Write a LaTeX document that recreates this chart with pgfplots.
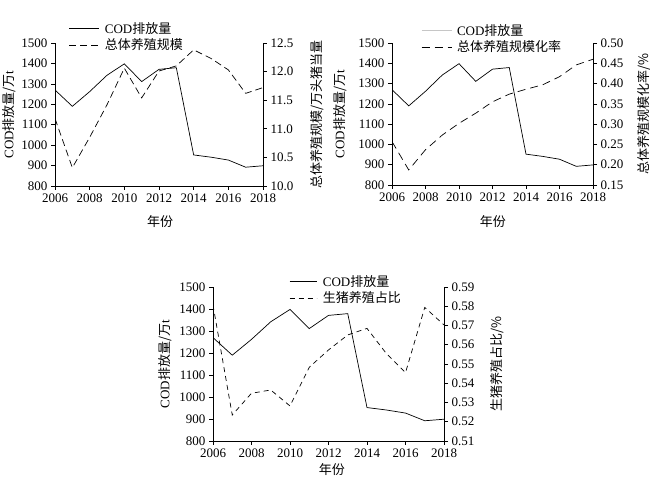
\documentclass[border=0pt]{standalone}
\usepackage{fontspec}
\setmainfont{Liberation Serif}
\newfontfamily\cjk{Noto Sans CJK SC}
\usepackage{pgfplots}
\pgfplotsset{compat=1.18}

% COD emission, shared by the three panels
\pgfplotstableread{
year cod
2006 1270
2007 1190
2008 1262
2009 1342
2010 1398
2011 1311
2012 1371
2013 1379
2014 952
2015 941
2016 927
2017 892
2018 899
}\coddata

\pgfplotstableread{
year v
2006 11.18
2007 10.32
2008 10.85
2009 11.42
2010 12.06
2011 11.54
2012 12.01
2013 12.10
2014 12.38
2015 12.23
2016 12.03
2017 11.62
2018 11.72
}\scaledata

\pgfplotstableread{
year v
2006 0.257
2007 0.187
2008 0.237
2009 0.273
2010 0.302
2011 0.327
2012 0.355
2013 0.374
2014 0.386
2015 0.397
2016 0.417
2017 0.446
2018 0.460
}\ratedata

\pgfplotstableread{
year v
2006 0.5806
2007 0.5235
2008 0.5348
2009 0.5365
2010 0.5282
2011 0.5483
2012 0.5573
2013 0.5651
2014 0.5685
2015 0.5555
2016 0.5455
2017 0.5794
2018 0.5703
}\pigdata

\pgfplotsset{
  panel/.style={
    scale only axis,
    xmin=2006, xmax=2018,
    xtick={2006,2008,...,2018},
    /pgf/number format/1000 sep={},
    /pgf/number format/assume math mode=true,
    tick align=outside,
    major tick length=4pt,
    axis line style={black, line width=0.6pt},
    tick style={black, line width=0.6pt},
  },
  leftax/.style={
    panel,
    axis y line*=left, axis x line*=bottom,
    ymin=800, ymax=1500,
    ytick={800,900,1000,1100,1200,1300,1400,1500},
    ylabel={COD{\cjk 排放量/万}t},
    xlabel={\cjk 年份},
  },
  rightax/.style={
    panel,
    axis y line*=right, axis x line=none,
    legend cell align=left,
    legend image code/.code={\draw[##1] (0pt,0pt) -- (30pt,0pt); \path (34pt,0pt);},
    legend style={draw=none, fill=none, inner sep=0pt, row sep=2pt,
      nodes={inner sep=1pt}},
  },
  codline/.style={black, no marks, line width=0.7pt},
}

\begin{document}
\begin{tikzpicture}[font=\fontsize{13}{15}\selectfont]
\path[use as bounding box] (0,0) rectangle (650pt,481pt);

% ---------- a ----------
\begin{axis}[leftax, at={(55pt,295pt)}, anchor=south west,
  width=208pt, height=143pt,
  ylabel style={at={(axis description cs:-0.221,0.5)}, anchor=center},
  xlabel style={at={(axis description cs:0.505,-0.252)}, anchor=center}]
\addplot[codline] table[x=year, y=cod] {\coddata};
\node at (axis description cs:0.553,1.248) {a. COD{\cjk 排放量与总体养殖规模变化趋势}};
\end{axis}
\begin{axis}[rightax, at={(55pt,295pt)}, anchor=south west,
  width=208pt, height=143pt,
  ymin=10, ymax=12.5, ytick={10,10.5,11,11.5,12,12.5},
  yticklabel style={/pgf/number format/.cd, fixed, fixed zerofill, precision=1},
  ylabel={\cjk 总体养殖规模/万头猪当量},
  ylabel style={at={(axis description cs:1.26,0.5)}, anchor=center},
  legend style={at={(axis description cs:0.067,1.154)}, anchor=north west}]
\addlegendimage{codline}
\addlegendentry{COD{\cjk 排放量}}
\addplot[black, no marks, line width=0.7pt, dash pattern=on 7pt off 4pt] table[x=year, y=v] {\scaledata};
\addlegendentry{\cjk 总体养殖规模}
\end{axis}

% ---------- b ----------
\begin{axis}[leftax, at={(392pt,296pt)}, anchor=south west,
  width=201pt, height=142pt,
  ylabel style={at={(axis description cs:-0.259,0.5)}, anchor=center},
  xlabel style={at={(axis description cs:0.502,-0.26)}, anchor=center}]
\addplot[codline] table[x=year, y=cod] {\coddata};
\node at (axis description cs:0.597,1.25) {b. COD{\cjk 排放量与总体养殖规模化率变化趋势}};
\end{axis}
\begin{axis}[rightax, at={(392pt,296pt)}, anchor=south west,
  width=201pt, height=142pt,
  ymin=0.15, ymax=0.50, ytick={0.15,0.20,0.25,0.30,0.35,0.40,0.45,0.50},
  yticklabel style={/pgf/number format/.cd, fixed, fixed zerofill, precision=2},
  ylabel={\cjk 总体养殖规模化率/\%},
  ylabel style={at={(axis description cs:1.254,0.5)}, anchor=center},
  legend style={at={(axis description cs:0.144,1.141)}, anchor=north west}]
\addlegendimage{gray!45, no marks, line width=0.9pt}
\addlegendentry{COD{\cjk 排放量}}
\addplot[black, no marks, line width=0.7pt, dash pattern=on 8pt off 5pt] table[x=year, y=v] {\ratedata};
\addlegendentry{\cjk 总体养殖规模化率}
\end{axis}

% ---------- c ----------
\begin{axis}[leftax, at={(213pt,40pt)}, anchor=south west,
  width=231pt, height=154pt,
  ylabel style={at={(axis description cs:-0.208,0.5)}, anchor=center},
  xlabel style={at={(axis description cs:0.515,-0.188)}, anchor=center}]
\addplot[codline] table[x=year, y=cod] {\coddata};
\node at (axis description cs:0.476,1.188) {c. COD{\cjk 排放量与生猪养殖占比变化趋势}};
\end{axis}
\begin{axis}[rightax, at={(213pt,40pt)}, anchor=south west,
  width=231pt, height=154pt,
  ymin=0.51, ymax=0.59, ytick={0.51,0.52,0.53,0.54,0.55,0.56,0.57,0.58,0.59},
  yticklabel style={/pgf/number format/.cd, fixed, fixed zerofill, precision=2},
  ylabel={\cjk 生猪养殖占比/\%},
  ylabel style={at={(axis description cs:1.229,0.5)}, anchor=center},
  legend image code/.code={\draw[#1] (0pt,0pt) -- (27pt,0pt); \path (32pt,0pt);},
  legend style={at={(axis description cs:0.329,1.084)}, anchor=north west}]
\addlegendimage{codline}
\addlegendentry{COD{\cjk 排放量}}
\addplot[black, no marks, line width=0.7pt, dash pattern=on 5pt off 4pt] table[x=year, y=v] {\pigdata};
\addlegendentry{\cjk 生猪养殖占比}
\end{axis}
\end{tikzpicture}
\end{document}
